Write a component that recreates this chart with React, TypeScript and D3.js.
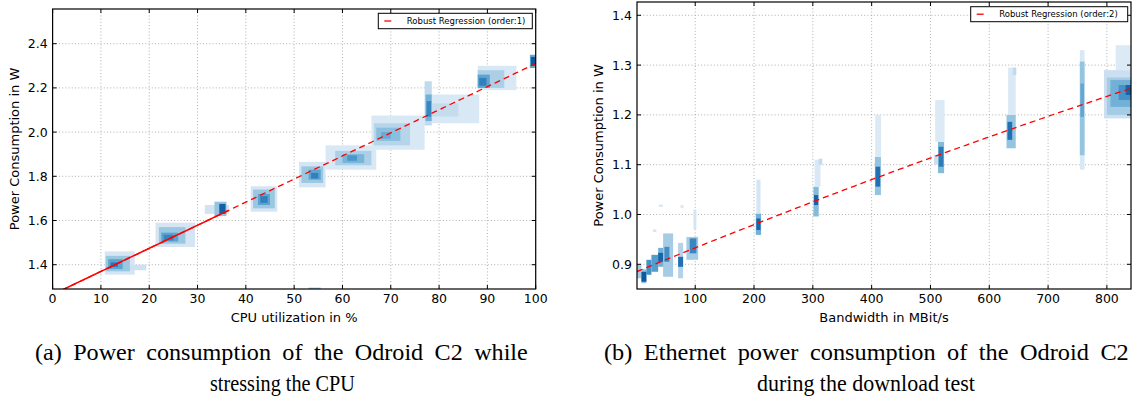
import React, { useLayoutEffect, useRef } from "react";
import * as d3 from "d3";

// ---------- data ----------
const CPU_X_TICKS = [0, 10, 20, 30, 40, 50, 60, 70, 80, 90, 100];
const CPU_Y_TICKS = [1.4, 1.6, 1.8, 2.0, 2.2, 2.4];
const CPU_X_DOMAIN = [0, 100];
const CPU_Y_DOMAIN = [1.29, 2.557];
// 2D-histogram density blobs: [x0, x1, y0, y1, level]
const CPU_BLOBS: number[][] = [
  [10.8, 17.0, 1.355, 1.46, 0.1],
  [15.0, 19.4, 1.375, 1.4, 0.14],
  [11.0, 16.0, 1.37, 1.44, 0.33],
  [11.5, 14.5, 1.38, 1.425, 0.52],
  [12.0, 13.5, 1.39, 1.41, 0.72],
  [21.3, 29.5, 1.48, 1.59, 0.1],
  [22.0, 27.5, 1.495, 1.57, 0.33],
  [22.5, 26.0, 1.505, 1.545, 0.52],
  [23.0, 25.0, 1.51, 1.535, 0.66],
  [31.5, 36.5, 1.63, 1.67, 0.12],
  [33.5, 36.0, 1.62, 1.685, 0.35],
  [34.5, 35.8, 1.63, 1.675, 0.82],
  [41.0, 46.5, 1.64, 1.755, 0.1],
  [41.5, 46.0, 1.655, 1.74, 0.33],
  [42.5, 45.0, 1.67, 1.72, 0.52],
  [43.0, 44.5, 1.68, 1.71, 0.68],
  [51.0, 56.5, 1.75, 1.865, 0.1],
  [51.5, 56.0, 1.77, 1.845, 0.33],
  [53.0, 55.5, 1.785, 1.83, 0.52],
  [53.5, 55.0, 1.79, 1.815, 0.68],
  [53.0, 55.5, 1.288, 1.296, 0.4],
  [56.5, 67.0, 1.83, 1.94, 0.08],
  [58.5, 66.0, 1.85, 1.915, 0.28],
  [60.0, 64.5, 1.86, 1.9, 0.43],
  [61.0, 63.0, 1.87, 1.895, 0.58],
  [66.0, 77.0, 1.92, 2.075, 0.08],
  [66.5, 74.0, 1.94, 2.04, 0.24],
  [67.0, 72.0, 1.96, 2.02, 0.38],
  [68.0, 70.0, 1.97, 2.0, 0.48],
  [77.0, 78.5, 2.03, 2.23, 0.2],
  [77.2, 78.5, 2.05, 2.17, 0.45],
  [77.4, 78.4, 2.07, 2.14, 0.65],
  [78.5, 88.3, 2.04, 2.17, 0.08],
  [78.5, 84.0, 2.07, 2.13, 0.18],
  [88.0, 96.0, 2.19, 2.3, 0.08],
  [88.0, 93.5, 2.2, 2.28, 0.28],
  [88.0, 90.5, 2.2, 2.26, 0.52],
  [88.3, 89.8, 2.21, 2.245, 0.68],
  [98.8, 100, 2.29, 2.35, 0.5],
  [99.0, 100, 2.3, 2.34, 0.85],
];
const CPU_FIT = [1.265, 0.01045]; // intercept, slope
const CPU_SOLID_RANGE = [0, 36.4];

const BW_X_TICKS = [100, 200, 300, 400, 500, 600, 700, 800];
const BW_Y_TICKS = [0.9, 1.0, 1.1, 1.2, 1.3, 1.4];
const BW_X_DOMAIN = [1, 841];
const BW_Y_DOMAIN = [0.8504, 1.4267];
const BW_BLOBS: number[][] = [
  [0, 8.5, 0.872, 0.899, 0.3],
  [8.5, 17, 0.862, 0.89, 0.35],
  [8.5, 17, 0.865, 0.885, 0.85],
  [17, 25.5, 0.879, 0.909, 0.6],
  [25.5, 37, 0.885, 0.919, 0.55],
  [37, 47.6, 0.895, 0.933, 0.45],
  [37, 47.6, 0.905, 0.923, 0.8],
  [45.4, 62.4, 0.875, 0.962, 0.3],
  [47.6, 56, 0.905, 0.935, 0.62],
  [70.9, 79.4, 0.872, 0.943, 0.25],
  [70.9, 79.4, 0.895, 0.915, 0.75],
  [85, 105, 0.909, 0.955, 0.3],
  [90.6, 102, 0.922, 0.952, 0.65],
  [97, 102, 0.97, 1.01, 0.1],
  [38, 45, 1.015, 1.02, 0.08],
  [28, 34, 0.965, 0.97, 0.1],
  [75, 80, 1.013, 1.019, 0.08],
  [203, 212, 0.959, 1.002, 0.45],
  [204, 211, 0.969, 0.992, 0.8],
  [204, 211, 1.002, 1.07, 0.1],
  [301, 310, 0.996, 1.056, 0.4],
  [302, 309, 1.019, 1.039, 0.8],
  [303, 313, 1.056, 1.11, 0.08],
  [310, 316, 1.1, 1.112, 0.2],
  [405.5, 415.8, 1.039, 1.116, 0.35],
  [406.5, 414.5, 1.056, 1.096, 0.75],
  [406, 416, 1.116, 1.2, 0.06],
  [512.8, 523.2, 1.083, 1.146, 0.4],
  [514, 522, 1.096, 1.136, 0.7],
  [508, 524, 1.146, 1.23, 0.06],
  [506, 513, 1.1, 1.12, 0.15],
  [629.3, 645, 1.133, 1.2, 0.35],
  [631, 639, 1.15, 1.186, 0.75],
  [632, 645, 1.2, 1.295, 0.07],
  [640, 646, 1.28, 1.295, 0.2],
  [754, 762, 1.09, 1.33, 0.08],
  [754, 762, 1.119, 1.307, 0.35],
  [755, 761, 1.196, 1.263, 0.5],
  [795, 841, 1.193, 1.29, 0.15],
  [800, 841, 1.2, 1.275, 0.3],
  [806, 841, 1.216, 1.27, 0.45],
  [820, 841, 1.23, 1.26, 0.6],
  [832, 841, 1.24, 1.26, 0.8],
  [815, 841, 1.29, 1.34, 0.06],
];
const BW_FIT = [0.885, 0.000485, -5.6e-8]; // a + b x + c x^2

// ---------- layout ----------
const FONT = "'DejaVu Sans', sans-serif";

type PanelProps = {
  left: number; right: number; top: number; bottom: number;
  xDomain: number[]; yDomain: number[];
  xTicks: number[]; yTicks: number[];
  blobs: number[][];
  fit: number[];
  solidRange?: number[];
  xLabel: string; yLabel: string; yLabelX: number;
  legendText: string; legend: { x: number; y: number; w: number; h: number };
  yFmt: (v: number) => string;
  clipId: string;
};

function Panel(p: PanelProps) {
  const x = d3.scaleLinear().domain(p.xDomain).range([p.left, p.right]);
  const y = d3.scaleLinear().domain(p.yDomain).range([p.bottom, p.top]);
  const color = (l: number) => d3.interpolateBlues(0.08 + 0.9 * l);
  const f = (v: number) => p.fit.reduce((s, c, i) => s + c * Math.pow(v, i), 0);
  const samples = d3.range(0, 121).map((i) => p.xDomain[0] + ((p.xDomain[1] - p.xDomain[0]) * i) / 120);
  const line = d3.line<number>().x((v) => x(v)).y((v) => y(f(v)));
  const solidSamples = p.solidRange
    ? d3.range(0, 41).map((i) => p.solidRange![0] + ((p.solidRange![1] - p.solidRange![0]) * i) / 40)
    : [];
  const tick = 4;
  return (
    <g>
      <defs>
        <clipPath id={p.clipId}>
          <rect x={p.left} y={p.top} width={p.right - p.left} height={p.bottom - p.top} />
        </clipPath>
      </defs>
      <g stroke="#9a9a9a" strokeWidth={0.8} strokeDasharray="1,2.2">
        {p.xTicks.map((t) => (
          <line key={"gx" + t} x1={x(t)} x2={x(t)} y1={p.top} y2={p.bottom} />
        ))}
        {p.yTicks.map((t) => (
          <line key={"gy" + t} x1={p.left} x2={p.right} y1={y(t)} y2={y(t)} />
        ))}
      </g>
      <g clipPath={`url(#${p.clipId})`}>
        {p.blobs.map((b, i) => (
          <rect
            key={"b" + i}
            x={x(b[0])}
            y={y(b[3])}
            width={x(b[1]) - x(b[0])}
            height={y(b[2]) - y(b[3])}
            fill={color(b[4])}
          />
        ))}
        <path d={line(samples) || ""} fill="none" stroke="#ff0000" strokeWidth={1.3} strokeDasharray="6,4" />
        {solidSamples.length > 0 && (
          <path d={line(solidSamples) || ""} fill="none" stroke="#ff0000" strokeWidth={1.5} />
        )}
      </g>
      <rect x={p.left} y={p.top} width={p.right - p.left} height={p.bottom - p.top} fill="none" stroke="#000" strokeWidth={1.2} />
      <g stroke="#000" strokeWidth={1}>
        {p.xTicks.map((t) => (
          <g key={"tx" + t}>
            <line x1={x(t)} x2={x(t)} y1={p.bottom} y2={p.bottom - tick} />
            <line x1={x(t)} x2={x(t)} y1={p.top} y2={p.top + tick} />
          </g>
        ))}
        {p.yTicks.map((t) => (
          <g key={"ty" + t}>
            <line x1={p.left} x2={p.left + tick} y1={y(t)} y2={y(t)} />
            <line x1={p.right} x2={p.right - tick} y1={y(t)} y2={y(t)} />
          </g>
        ))}
      </g>
      <g fontFamily={FONT} fontSize={12.5} fill="#000">
        {p.xTicks.map((t) => (
          <text key={"lx" + t} x={x(t)} y={p.bottom + 14} textAnchor="middle">
            {String(t)}
          </text>
        ))}
        {p.yTicks.map((t) => (
          <text key={"ly" + t} x={p.left - 5} y={y(t) + 4.5} textAnchor="end">
            {p.yFmt(t)}
          </text>
        ))}
      </g>
      <text x={(p.left + p.right) / 2} y={p.bottom + 33} textAnchor="middle" fontFamily={FONT} fontSize={13}>
        {p.xLabel}
      </text>
      <text
        transform={`translate(${p.yLabelX},${(p.top + p.bottom) / 2}) rotate(-90)`}
        textAnchor="middle"
        dominantBaseline="middle"
        fontFamily={FONT}
        fontSize={13}
      >
        {p.yLabel}
      </text>
      <rect x={p.legend.x} y={p.legend.y} width={p.legend.w} height={p.legend.h} fill="#fff" stroke="#000" strokeWidth={1} />
      <line
        x1={p.legend.x + 6}
        x2={p.legend.x + 13}
        y1={p.legend.y + p.legend.h / 2}
        y2={p.legend.y + p.legend.h / 2}
        stroke="#ff0000"
        strokeWidth={1.3}
      />
      <text x={p.legend.x + 28.5} y={p.legend.y + p.legend.h / 2 + 3} fontFamily={FONT} fontSize={8.5}>
        {p.legendText}
      </text>
    </g>
  );
}

// Caption line fitted to a target width: a little extra word spacing, then a horizontal scale.
function Fitted(props: { x: number; y: number; width: number; text: string; maxWordSpace: number }) {
  const ref = useRef<SVGTextElement | null>(null);
  useLayoutEffect(() => {
    const el = ref.current;
    if (!el) return;
    el.setAttribute("word-spacing", "0");
    el.removeAttribute("transform");
    const natural = el.getComputedTextLength();
    const spaces = (props.text.match(/ /g) || []).length;
    if (natural < props.width && spaces > 0) {
      const ws = Math.min(props.maxWordSpace, (props.width - natural) / spaces);
      el.setAttribute("word-spacing", String(ws));
    }
    const len = el.getComputedTextLength();
    const s = props.width / len;
    el.setAttribute("transform", `translate(${props.x},0) scale(${s},1) translate(${-props.x},0)`);
  }, [props.text, props.width, props.x, props.maxWordSpace]);
  return (
    <text ref={ref} x={props.x} y={props.y}>
      {props.text}
    </text>
  );
}

const CAPTION_A = ["(a) Power consumption of the Odroid C2 while", "stressing the CPU"];
const CAPTION_B = ["(b) Ethernet power consumption of the Odroid C2", "during the download test"];

export default function App() {
  const serif = "'Liberation Serif', 'Times New Roman', serif";
  return (
    <svg
      width={1137}
      height={403}
      viewBox="0 0 1137 403"
      style={{ position: "absolute", left: 0, top: 0, background: "#fff" }}
    >
      <rect width={1137} height={403} fill="#fff" />
      <Panel
        left={52.6}
        right={535.7}
        top={9}
        bottom={289}
        xDomain={CPU_X_DOMAIN}
        yDomain={CPU_Y_DOMAIN}
        xTicks={CPU_X_TICKS}
        yTicks={CPU_Y_TICKS}
        blobs={CPU_BLOBS}
        fit={CPU_FIT}
        solidRange={CPU_SOLID_RANGE}
        xLabel="CPU utilization in %"
        yLabel="Power Consumption in W"
        yLabelX={15}
        legendText="Robust Regression (order:1)"
        legend={{ x: 378.3, y: 13.3, w: 154, h: 15.4 }}
        yFmt={(v) => v.toFixed(1)}
        clipId="clipA"
      />
      <Panel
        left={637}
        right={1131}
        top={2}
        bottom={289}
        xDomain={BW_X_DOMAIN}
        yDomain={BW_Y_DOMAIN}
        xTicks={BW_X_TICKS}
        yTicks={BW_Y_TICKS}
        blobs={BW_BLOBS}
        fit={BW_FIT}
        xLabel="Bandwidth in MBit/s"
        yLabel="Power Consumption in W"
        yLabelX={599}
        legendText="Robust Regression (order:2)"
        legend={{ x: 970.7, y: 6.7, w: 157, h: 15 }}
        yFmt={(v) => v.toFixed(1)}
        clipId="clipB"
      />
      <g fontFamily={serif} fontSize={22.5} fill="#000">
        <Fitted x={35} y={360} width={493} text={CAPTION_A[0]} maxWordSpace={5} />
        <Fitted x={210} y={391} width={145} text={CAPTION_A[1]} maxWordSpace={0} />
        <Fitted x={604} y={360} width={525} text={CAPTION_B[0]} maxWordSpace={5} />
        <Fitted x={757} y={391} width={218} text={CAPTION_B[1]} maxWordSpace={0} />
      </g>
    </svg>
  );
}
